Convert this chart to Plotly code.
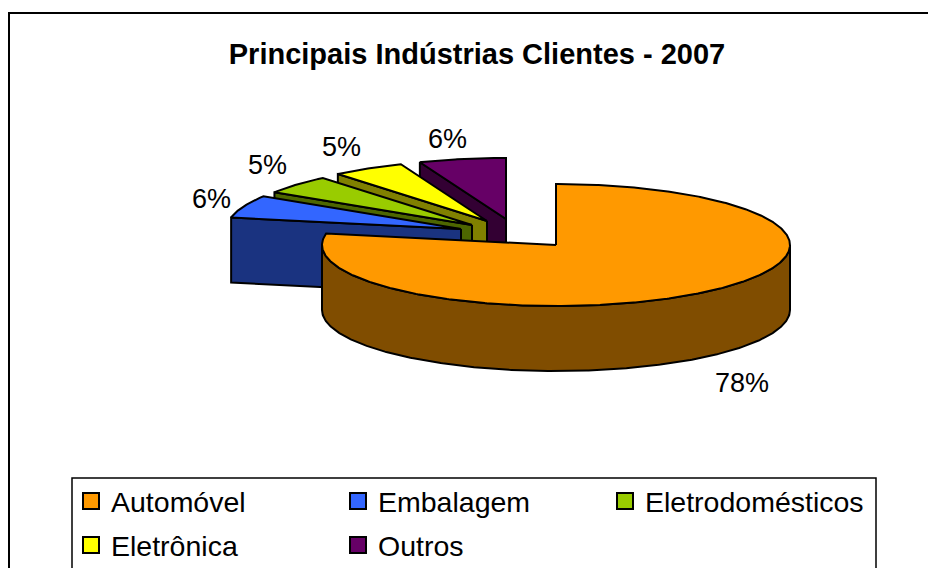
import math
import plotly.graph_objects as go

categories = ["Automóvel", "Embalagem", "Eletrodomésticos", "Eletrônica", "Outros"]
values = [78, 6, 5, 5, 6]
title_text = "Principais Indústrias Clientes - 2007"

colors = ["#FF9900", "#3366FF", "#99CC00", "#FFFF00", "#660066"]
wall_colors = ["#804D00", "#1A3380", "#4D6600", "#808000", "#330033"]

# projection of the pie
CX, CY, RX, RY, DEPTH = 556, 245, 234, 61, 65
explode = [(0, 0), (-95, -16), (-84, -20), (-69, -24), (-50, -26)]
label_pos = [(742, 383), (211, 199), (267, 165), (341, 147), (447, 139)]
FONT = "Liberation Sans"
W, H = 928, 568


def rim(angle, cx, cy):
    a = math.radians(angle)
    return cx + RX * math.sin(a), cy - RY * math.cos(a)


def arc(a0, a1, cx, cy, dz=0):
    n = max(2, int(abs(a1 - a0) * 2))
    pts = [rim(a0 + (a1 - a0) * i / n, cx, cy) for i in range(n + 1)]
    return [(x, y + dz) for x, y in pts]


total = sum(values)
angles = [0]
for v in values:
    angles.append(angles[-1] + 360 * v / total)

fig = go.Figure()


def poly(pts, fill):
    pts = list(pts) + [pts[0]]
    fig.add_trace(go.Scatter(
        x=[p[0] for p in pts], y=[p[1] for p in pts], mode="lines", fill="toself",
        fillcolor=fill, line=dict(color="black", width=2), showlegend=False, hoverinfo="skip",
    ))


# small slices from back to front
for i in range(len(values) - 1, 0, -1):
    cx, cy = CX + explode[i][0], CY + explode[i][1]
    a0, a1 = angles[i], angles[i + 1]
    ex, ey = rim(a0, cx, cy)
    poly([(cx, cy), (ex, ey), (ex, ey + DEPTH), (cx, cy + DEPTH)], wall_colors[i])
    poly([(cx, cy)] + arc(a0, a1, cx, cy), colors[i])

# main slice: outer wall, then top
a0, a1 = angles[0], angles[1]
top_arc = arc(90, 270, CX, CY)
bottom_arc = arc(270, 90, CX, CY, DEPTH)
poly(top_arc + bottom_arc, wall_colors[0])
poly([(CX, CY)] + arc(a0, a1, CX, CY), colors[0])

# legend entries: three in the first row, two in the second
for i, (name, color) in enumerate(zip(categories, colors)):
    fig.add_trace(go.Scatter(
        x=[None], y=[None], mode="markers", name=name,
        legend="legend" if i < 3 else "legend2",
        marker=dict(symbol="square", size=16, color=color, line=dict(color="black", width=2)),
    ))

for v, (x, y) in zip(values, label_pos):
    fig.add_annotation(x=x, y=y, text=f"{v}%", showarrow=False, xanchor="center", yanchor="middle",
                       font=dict(family=FONT, size=27, color="black"))


def legend_row(top):
    return dict(
        orientation="h", x=71 / W, xanchor="left", y=1 - top / H, yanchor="top",
        entrywidth=222, entrywidthmode="pixels", itemwidth=30, traceorder="normal",
        font=dict(family=FONT, size=28.5, color="black"), bgcolor="rgba(0,0,0,0)",
    )


fig.update_layout(
    width=W, height=H, margin=dict(l=0, r=0, t=0, b=0, autoexpand=False),
    paper_bgcolor="white", plot_bgcolor="white",
    title=dict(text=title_text, x=477 / W, xanchor="center", y=1 - 54 / H, yanchor="middle",
               font=dict(family=FONT, size=29, color="black", weight=700)),
    xaxis=dict(range=[0, W], visible=False, fixedrange=True),
    yaxis=dict(range=[H, 0], visible=False, fixedrange=True),
    showlegend=True,
    legend=legend_row(476),
    legend2=legend_row(520),
    shapes=[
        dict(type="rect", xref="x", yref="y", x0=9, y0=13, x1=960, y1=620, line=dict(color="black", width=2)),
        dict(type="rect", xref="x", yref="y", x0=72, y0=478, x1=876, y1=620, line=dict(color="black", width=1.5)),
    ],
)
fig.write_html("out.html", default_width=f"{W}px", default_height=f"{H}px",
               config={"displayModeBar": False},
               post_script="document.body.style.margin='0';document.documentElement.style.overflow='hidden';")
